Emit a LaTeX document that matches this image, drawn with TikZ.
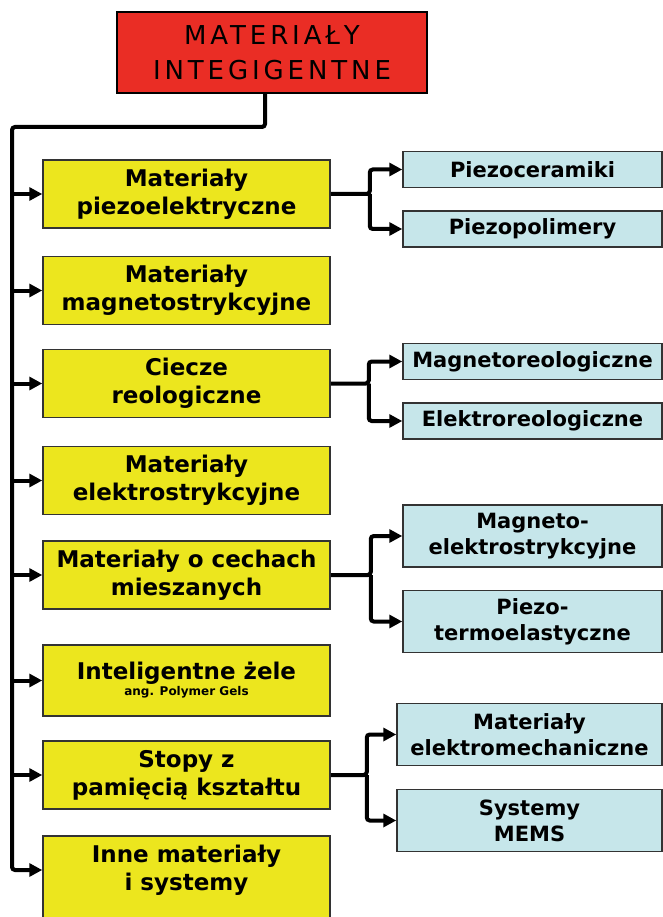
\documentclass[tikz,border=0pt]{standalone}
\usepackage{fontspec}
\setmainfont{DejaVu Sans}
\newfontfamily\titlefont[LetterSpace=15]{DejaVu Sans}
\newcommand\notefont{\fontsize{12}{14}\selectfont}
\usetikzlibrary{arrows.meta}
\definecolor{titlered}{RGB}{234,45,37}
\definecolor{matyellow}{RGB}{236,230,30}
\definecolor{subblue}{RGB}{198,230,234}
\tikzset{
  link/.style={line width=4pt, rounded corners=3pt},
  flowarrow/.style={link, -{Triangle[length=13pt, width=13pt]}},
  titlebox/.style={draw=black, line width=2.5pt, fill=titlered, minimum width=310pt, minimum height=81pt, inner sep=0pt, align=center, font=\titlefont\fontsize{26}{35}\selectfont},
  matbox/.style={draw=black!80, line width=1.5pt, fill=matyellow, minimum width=287pt, minimum height=68pt, inner sep=0pt, align=center, font=\fontsize{23}{28}\selectfont\bfseries},
  subbox/.style={draw=black!80, line width=1.5pt, fill=subblue, minimum width=259pt, minimum height=36pt, inner sep=0pt, align=center, font=\fontsize{21}{26}\selectfont\bfseries}
}
\begin{document}
\begin{tikzpicture}[x=1pt, y=-1pt]
  \useasboundingbox (0,0) rectangle (663,917);
  % root
  \node[titlebox] (title) at (272,52.5) {MATERIAŁY\\INTEGIGENTNE};
  \coordinate (trunk) at (12,127);
  % main groups
  \node[matbox] (mat1) at (186.5,194) {Materiały\\piezoelektryczne};
  \node[matbox] (mat2) at (186.5,290.5) {Materiały\\magnetostrykcyjne};
  \node[matbox] (mat3) at (186.5,383.5) {Ciecze\\reologiczne};
  \node[matbox] (mat4) at (186.5,480.5) {Materiały\\elektrostrykcyjne};
  \node[matbox] (mat5) at (186.5,575) {Materiały o cechach\\mieszanych};
  \node[matbox, minimum height=71pt] (mat6) at (186.5,680.5) {Inteligentne żele\\[-12pt]{\notefont ang. Polymer Gels}};
  \node[matbox] (mat7) at (186.5,775) {Stopy z\\pamięcią kształtu};
  \node[matbox, minimum height=100pt] (mat8) at (186.5,886)
    {\raisebox{9pt}[0pt][0pt]{\begin{tabular}{@{}c@{}}Inne materiały\\i systemy\end{tabular}}};
  % sub groups
  \node[subbox] (piezocer) at (532.5,169.5) {Piezoceramiki};
  \node[subbox] (piezopol) at (532.5,229) {Piezopolimery};
  \node[subbox] (magreo) at (532.5,361.5) {Magnetoreologiczne};
  \node[subbox] (elreo) at (532.5,421) {Elektroreologiczne};
  \node[subbox, minimum height=62pt] (magel) at (532.5,536) {Magneto-\\elektrostrykcyjne};
  \node[subbox, minimum height=62pt] (piezoterm) at (532.5,621.5) {Piezo-\\termoelastyczne};
  \node[subbox, minimum height=62pt, minimum width=265pt] (elmech) at (529.5,734.5) {Materiały\\elektromechaniczne};
  \node[subbox, minimum height=62pt, minimum width=265pt] (mems) at (529.5,820.5) {Systemy\\MEMS};
  % connectors
  \draw[flowarrow] ([xshift=-7pt]title.south) |- (trunk) |- ([yshift=16pt]mat8.west);
  \foreach \k in {1,...,7}
    \draw[flowarrow] (trunk |- mat\k.west) -- (mat\k.west);
  \foreach \m/\a/\b/\d in {1/piezocer/piezopol/39, 3/magreo/elreo/38, 5/magel/piezoterm/40, 7/elmech/mems/36} {
    \draw[flowarrow] (mat\m.east) -- ++(\d,0) coordinate (j\m) |- (\a.west);
    \draw[flowarrow] (j\m) |- (\b.west);
  }
\end{tikzpicture}
\end{document}
